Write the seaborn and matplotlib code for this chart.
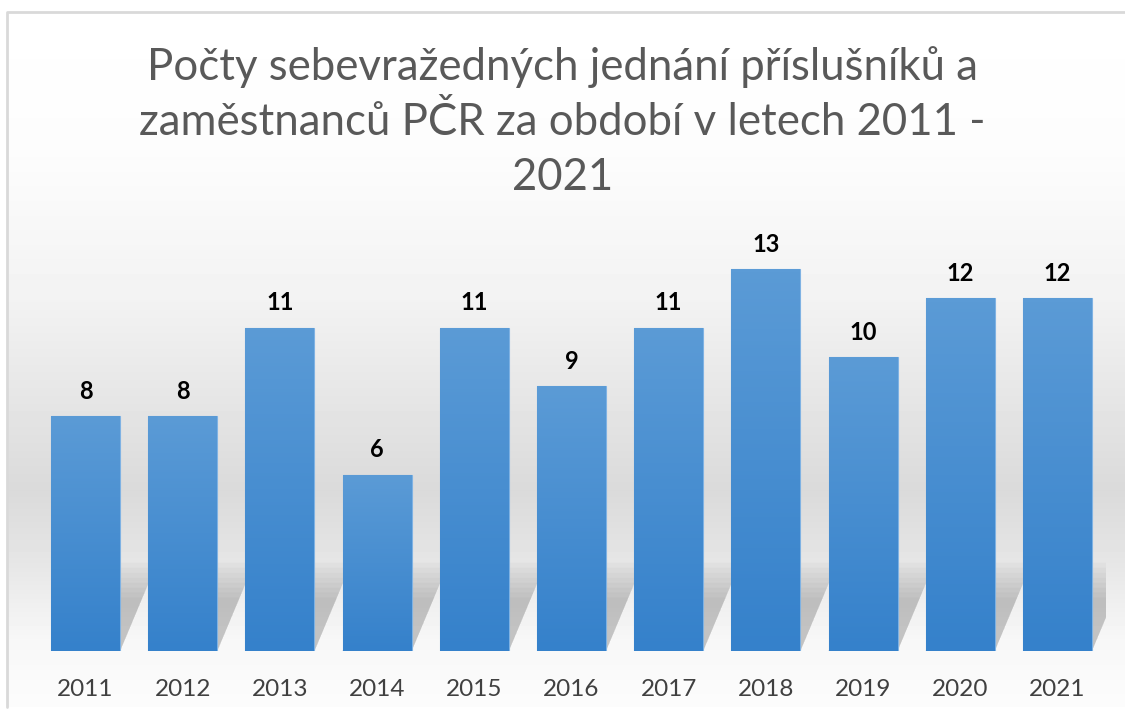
import numpy as np
import pandas as pd
import matplotlib
matplotlib.use("Agg")
import matplotlib.pyplot as plt
import seaborn as sns
from matplotlib.patches import Rectangle, Polygon
from matplotlib.colors import LinearSegmentedColormap

years = ["2011", "2012", "2013", "2014", "2015", "2016", "2017", "2018", "2019", "2020", "2021"]
counts = [8, 8, 11, 6, 11, 9, 11, 13, 10, 12, 12]
title = "Počty sebevražedných jednání příslušníků a\nzaměstnanců PČR za období v letech 2011 -\n2021"

sns.set_theme(style="white")
plt.rcParams['font.family'] = ['Lato', 'DejaVu Sans']

df = pd.DataFrame({"year": years, "count": counts})

fig = plt.figure(figsize=(11.25, 7.15), dpi=100)

# background gradient
bg = fig.add_axes([0, 0, 1, 1], zorder=0)
H = 715
yy = np.arange(H)
vals = np.interp(yy, [0, 150, 300, 490, 560, 640, 715], [1.0, 0.99, 0.95, 0.855, 0.90, 0.97, 0.99])
img = np.repeat(vals[:, None], 10, axis=1)
bg.imshow(img, cmap="gray", vmin=0, vmax=1, aspect="auto", extent=[0, 1, 0, 1], origin="upper")
bg.add_patch(Rectangle((0, 0), 7 / 1125, 1, transform=bg.transAxes, color="white", zorder=2))
bg.add_patch(Rectangle((0, 1 - 12 / 715), 1, 12 / 715, transform=bg.transAxes, color="white", zorder=2))
bg.add_patch(Rectangle((0, 0), 1, 8 / 715, transform=bg.transAxes, color="white", zorder=2))
bg.plot([7 / 1125, 7 / 1125, 1], [8 / 715, 1 - 12 / 715, 1 - 12 / 715], color="#d9d9d9", lw=2,
        transform=bg.transAxes, zorder=3)
bg.set_xlim(0, 1); bg.set_ylim(0, 1)
bg.axis("off")

# main axes
left, right = 37 / 1125, 1106 / 1125
bottom = 1 - 651 / 715
top = 1 - (651 - 14 * 29.4) / 715
ax = fig.add_axes([left, bottom, right - left, top - bottom], zorder=1)
ax.patch.set_alpha(0)

sns.barplot(data=df, x="year", y="count", color="#4a8fd3", width=0.71, ax=ax, zorder=3)
ax.set_ylim(0, 14)
ax.set_xlim(-0.5, len(years) - 0.5)

grad = np.linspace(0, 1, 100)[:, None]
cmap = LinearSegmentedColormap.from_list("b", ["#3581cb", "#5b9bd6"])
for p in list(ax.patches):
    x0, w, h = p.get_x(), p.get_width(), p.get_height()
    p.set_edgecolor("#7fb2e3")
    p.set_linewidth(0.8)
    im = ax.imshow(grad, cmap=cmap, aspect="auto", extent=[x0, x0 + w, 0, h], origin="lower", zorder=3.1)
    im.set_clip_path(p)
    # soft diagonal shadow cast behind bar (layered for blur)
    n = 8
    for k in range(n):
        f = 1 - k / n
        sh = min(h, 3.0) * (0.55 + 0.45 * f)
        dx = 0.38 * (0.55 + 0.45 * f)
        poly = Polygon([(x0, 0), (x0 + w, 0), (x0 + w + dx, sh), (x0 + dx, sh)],
                       closed=True, facecolor="#555555", alpha=0.045, edgecolor="none", zorder=2)
        ax.add_patch(poly)

for i, v in enumerate(counts):
    ax.text(i, v + 0.45, str(v), ha="center", va="bottom", fontsize=17, fontweight="bold", color="black")

ax.set_xlabel("")
ax.set_ylabel("")
ax.set_yticks([])
ax.tick_params(axis="x", length=0, pad=20, labelsize=17.5, labelcolor="#404040")
for s in ax.spines.values():
    s.set_visible(False)

fig.text(0.5, 1 - 122 / 715, title, ha="center", va="center", fontsize=31.5, color="#595959",
         linespacing=1.42)

fig.savefig("out.png", dpi=100)
